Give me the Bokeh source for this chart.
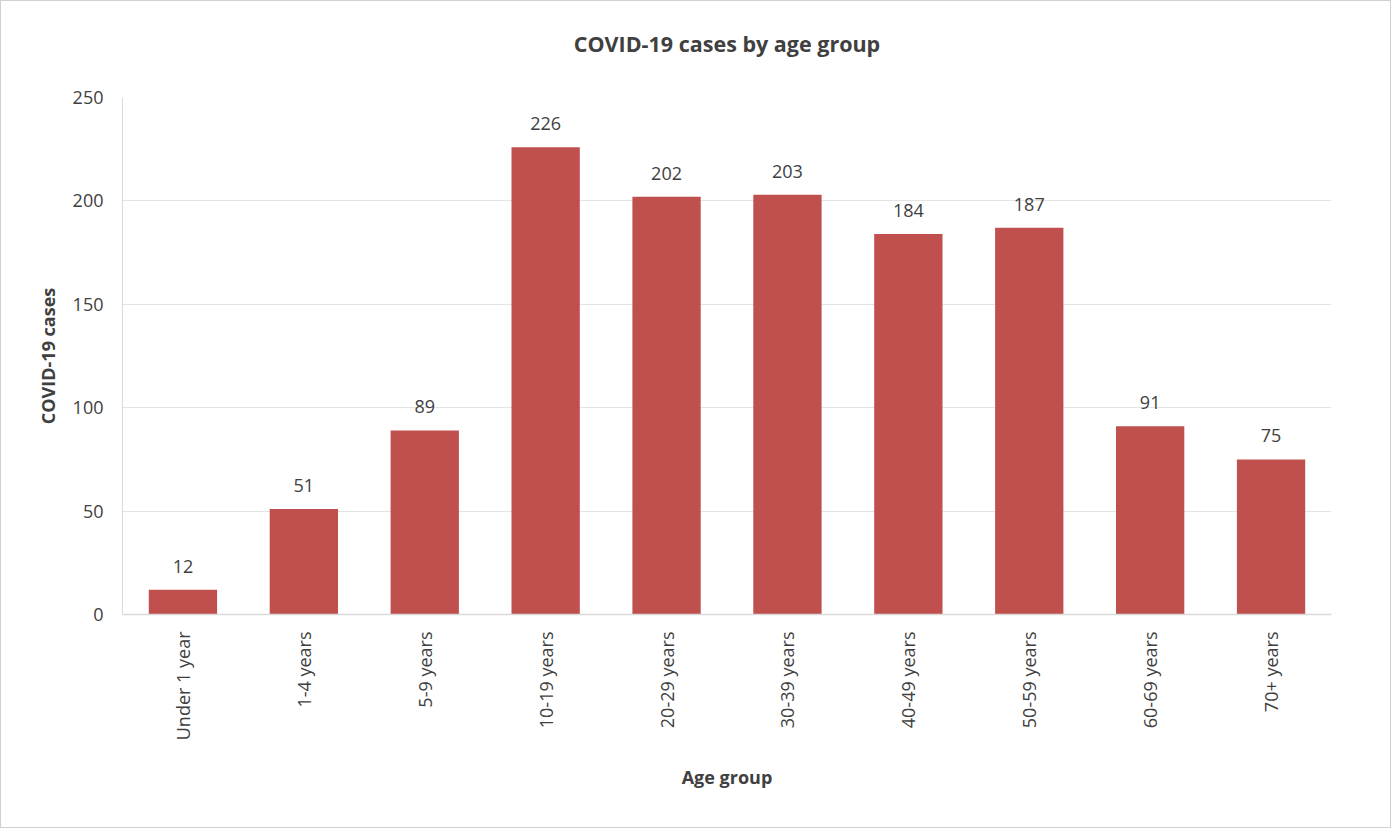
import math
from bokeh.plotting import figure
from bokeh.models import ColumnDataSource, LabelSet, Title
from bokeh.core.properties import value
from bokeh.embed import file_html
from bokeh.resources import INLINE

categories = ["Under 1 year", "1-4 years", "5-9 years", "10-19 years", "20-29 years",
              "30-39 years", "40-49 years", "50-59 years", "60-69 years", "70+ years"]
cases = [12, 51, 89, 226, 202, 203, 184, 187, 91, 75]
y_ticks = [0, 50, 100, 150, 200, 250]

FONT = "Open Sans"
TXT = "#404040"

src = ColumnDataSource(dict(cat=categories, val=cases, lab=[str(v) for v in cases]))

p = figure(x_range=categories, y_range=(0, 250), width=1391, height=828,
           output_backend="svg", toolbar_location=None)
p.min_border = 0
p.min_border_left = 121
p.min_border_right = 61
p.min_border_top = 96
p.min_border_bottom = 215
p.styles = {"border": "1px solid #d0d0d0"}

p.vbar(x="cat", top="val", width=0.565, source=src, fill_color="#C0504D", line_color=None)

labels = LabelSet(x="cat", y="val", text="lab", source=src, text_align="center",
                  text_baseline="bottom", y_offset=17, text_font=value(FONT),
                  text_font_size="18px", text_color=TXT)
p.add_layout(labels)

# spacer between frame and title, then the title itself
p.add_layout(Title(text=" ", text_font_size="21px"), "above")
p.add_layout(Title(text="COVID-19 cases by age group", align="center", text_font=FONT,
                   text_font_size="21.5px", text_font_style="bold", text_color=TXT), "above")

p.outline_line_color = None
p.xgrid.grid_line_color = None
p.ygrid.grid_line_color = "#e3e3e3"
p.ygrid.grid_line_width = 1

p.yaxis.ticker = y_ticks
p.yaxis.axis_line_color = "#d9d9d9"
p.yaxis.major_tick_line_color = None
p.yaxis.minor_tick_line_color = None
p.yaxis.major_label_text_font = FONT
p.yaxis.major_label_text_font_size = "18px"
p.yaxis.major_label_text_color = TXT
p.yaxis.major_label_standoff = 13
p.yaxis.axis_label = "COVID-19 cases"
p.yaxis.axis_label_text_font = FONT
p.yaxis.axis_label_text_font_size = "18px"
p.yaxis.axis_label_text_font_style = "bold"
p.yaxis.axis_label_text_color = TXT
p.yaxis.axis_label_standoff = 10

p.xaxis.axis_line_color = "#d9d9d9"
p.xaxis.axis_line_width = 1.5
p.xaxis.major_tick_line_color = None
p.xaxis.minor_tick_line_color = None
p.xaxis.major_label_orientation = math.pi / 2
p.xaxis.major_label_text_font = FONT
p.xaxis.major_label_text_font_size = "18px"
p.xaxis.major_label_text_color = TXT
p.xaxis.major_label_standoff = 11
p.xaxis.axis_label = "Age group"
p.xaxis.axis_label_text_font = FONT
p.xaxis.axis_label_text_font_size = "18px"
p.xaxis.axis_label_text_font_style = "bold"
p.xaxis.axis_label_text_color = TXT
p.xaxis.axis_label_standoff = 22

p.x_range.range_padding = 0

open("out.html", "w").write(file_html(p, INLINE))
